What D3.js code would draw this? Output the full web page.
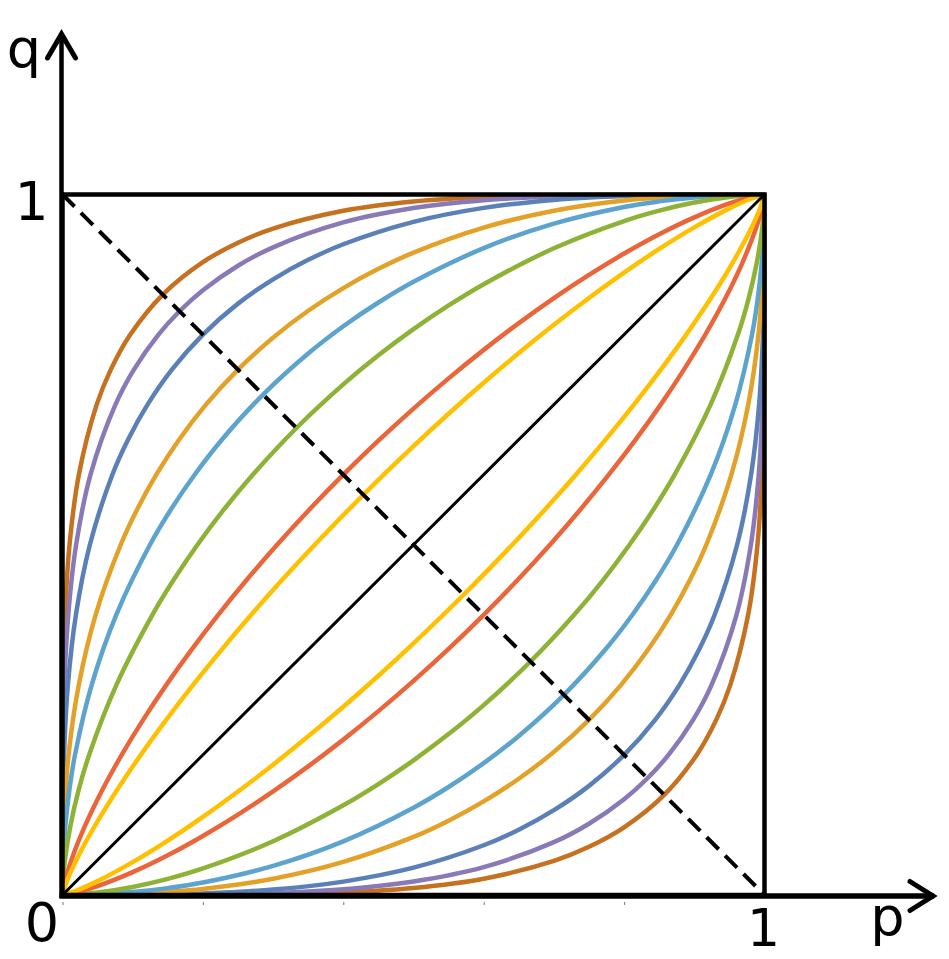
<!DOCTYPE html>
<html>
<head>
<meta charset="utf-8">
<script src="https://cdn.jsdelivr.net/npm/d3@7"></script>
<style>
  html, body { margin: 0; padding: 0; background: #ffffff; }
  svg { display: block; }
</style>
</head>
<body>
<svg id="chart" width="949" height="959"></svg>
<script>
// ---- data: upper family of curves, [p, q] points (outermost first) ----
const curve1 = [[0,0],[0,0.1],[0.0002,0.2],[0.001,0.3],[0.0036,0.4],[0.010,0.5],[0.0233,0.6],[0.0487,0.7],[0.0688,0.75],[0.0966,0.8],[0.1429,0.8571],[0.2,0.9034],[0.25,0.9312],[0.3,0.9513],[0.4,0.9767],[0.5,0.99],[0.6,0.9964],[0.7,0.999],[0.8,0.9998],[1,1]];
const curve2 = [[0,0],[0,0.1],[0.0006,0.2],[0.0027,0.3],[0.0082,0.4],[0.0194,0.5],[0.0399,0.6],[0.0754,0.7],[0.1017,0.75],[0.1367,0.8],[0.1667,0.8333],[0.2,0.8633],[0.25,0.8983],[0.3,0.9246],[0.4,0.9601],[0.5,0.9806],[0.6,0.9918],[0.7,0.9973],[0.8,0.9994],[1,1]];
const curve3 = [[0,0],[0.0003,0.1],[0.0022,0.2],[0.0077,0.3],[0.0191,0.4],[0.039,0.5],[0.071,0.6],[0.0933,0.65],[0.1211,0.7],[0.1558,0.75],[0.2,0.8],[0.25,0.8442],[0.3,0.8789],[0.35,0.9067],[0.4,0.929],[0.5,0.961],[0.6,0.9809],[0.7,0.9923],[0.8,0.9978],[0.9,0.9997],[1,1]];
const curve4 = [[0,0],[0.0003,0.05],[0.0016,0.1],[0.0086,0.2],[0.0232,0.3],[0.0472,0.4],[0.0829,0.5],[0.1061,0.55],[0.1336,0.6],[0.166,0.65],[0.2043,0.7],[0.25,0.75],[0.3,0.7957],[0.35,0.834],[0.4,0.8664],[0.45,0.8939],[0.5,0.9171],[0.6,0.9528],[0.7,0.9768],[0.8,0.9914],[0.9,0.9984],[0.95,0.9997],[1,1]];
const curve5 = [[0,0],[0.001,0.05],[0.0042,0.1],[0.0098,0.15],[0.0178,0.2],[0.0416,0.3],[0.0766,0.4],[0.1246,0.5],[0.1542,0.55],[0.1882,0.6],[0.227,0.65],[0.2857,0.7143],[0.35,0.773],[0.4,0.8119],[0.45,0.8458],[0.5,0.8754],[0.6,0.9234],[0.7,0.9584],[0.8,0.9822],[0.85,0.9902],[0.9,0.9958],[0.95,0.999],[1,1]];
const curve6 = [[0,0],[0.0007,0.02],[0.0035,0.05],[0.0115,0.1],[0.023,0.15],[0.0379,0.2],[0.0768,0.3],[0.1281,0.4],[0.1584,0.45],[0.1923,0.5],[0.2297,0.55],[0.2711,0.6],[0.3333,0.6667],[0.4,0.7289],[0.45,0.7704],[0.5,0.8077],[0.55,0.8416],[0.6,0.872],[0.7,0.9232],[0.8,0.9621],[0.85,0.977],[0.9,0.9885],[0.95,0.9965],[0.98,0.9993],[1,1]];
const curve7 = [[0,0],[0.0037,0.02],[0.0127,0.05],[0.0326,0.1],[0.0567,0.15],[0.0843,0.2],[0.1148,0.25],[0.1479,0.3],[0.1836,0.35],[0.2218,0.4],[0.2625,0.45],[0.3057,0.5],[0.3514,0.55],[0.4,0.6],[0.45,0.6486],[0.5,0.6944],[0.55,0.7375],[0.6,0.7782],[0.65,0.8164],[0.7,0.8521],[0.75,0.8852],[0.8,0.9157],[0.85,0.9433],[0.9,0.9674],[0.95,0.9873],[0.98,0.9963],[1,1]];
const curve8 = [[0,0],[0.0064,0.02],[0.0198,0.05],[0.0469,0.1],[0.0777,0.15],[0.1115,0.2],[0.1477,0.25],[0.186,0.3],[0.2265,0.35],[0.2688,0.4],[0.313,0.45],[0.3593,0.5],[0.4286,0.5714],[0.5,0.6407],[0.55,0.687],[0.6,0.7312],[0.65,0.7736],[0.7,0.814],[0.75,0.8523],[0.8,0.8885],[0.85,0.9223],[0.9,0.9531],[0.95,0.9802],[0.98,0.9936],[1,1]];
const diagonal = [[0,0],[1,1]];
const antiDiagonal = [[0,1],[1,0]];
const minorTicks = [0, 0.2, 0.4, 0.6, 0.8];
const xTitle = "p";
const yTitle = "q";
const zeroLabel = "0";
const oneLabel = "1";

// ---- styles ----
const curveColors = ["#C5711F", "#8979B6", "#5B80B8", "#E3A128", "#5CA3CE", "#8DB236", "#EA663A", "#FFC000"];

const upperCurves = [curve1, curve2, curve3, curve4, curve5, curve6, curve7, curve8];
// the lower family is the mirror image of the upper one across the diagonal (as in the picture)
const lowerCurves = upperCurves.map(c => c.map(([p, q]) => [q, p]));

const svg = d3.select("#chart");
const x = d3.scaleLinear().domain([0, 1]).range([62.5, 764.5]);
const y = d3.scaleLinear().domain([0, 1]).range([895, 194.5]);

const line = d3.line()
  .x(d => x(d[0]))
  .y(d => y(d[1]))
  .curve(d3.curveCatmullRom.alpha(0.5));

const gCurves = svg.append("g");
upperCurves.forEach((c, i) => {
  gCurves.append("path").datum(c).attr("d", line)
    .attr("fill", "none").attr("stroke", curveColors[i]).attr("stroke-width", 4.5);
});
lowerCurves.forEach((c, i) => {
  gCurves.append("path").datum(c).attr("d", line)
    .attr("fill", "none").attr("stroke", curveColors[i]).attr("stroke-width", 4.5);
});

const straight = d3.line().x(d => x(d[0])).y(d => y(d[1]));
svg.append("path").datum(diagonal).attr("d", straight)
  .attr("fill", "none").attr("stroke", "#000").attr("stroke-width", 3);
svg.append("path").datum(antiDiagonal).attr("d", straight)
  .attr("fill", "none").attr("stroke", "#000").attr("stroke-width", 4)
  .attr("stroke-dasharray", "17,9");

// unit square
svg.append("rect")
  .attr("x", x(0)).attr("y", y(1))
  .attr("width", x(1) - x(0)).attr("height", y(0) - y(1))
  .attr("fill", "none").attr("stroke", "#000").attr("stroke-width", 4.5);

// faint minor ticks under the p axis
const tickAxis = d3.axisBottom(x).tickValues(minorTicks).tickSize(3).tickFormat("");
const gt = svg.append("g").attr("transform", `translate(0,${y(0) + 7})`).call(tickAxis);
gt.select(".domain").remove();
gt.selectAll(".tick line").attr("stroke", "#777").attr("stroke-width", 1);

// axes with open arrowheads
const ax0 = x(0) - 1, ay0 = y(0) + 1;
svg.append("line").attr("x1", ax0).attr("y1", ay0 + 2).attr("x2", ax0).attr("y2", 33)
  .attr("stroke", "#000").attr("stroke-width", 4.5);
svg.append("polyline")
  .attr("points", `${ax0 - 14},58 ${ax0},34 ${ax0 + 14},58`)
  .attr("fill", "none").attr("stroke", "#000").attr("stroke-width", 5)
  .attr("stroke-linecap", "round").attr("stroke-linejoin", "miter");
svg.append("line").attr("x1", ax0 - 2).attr("y1", ay0).attr("x2", 934).attr("y2", ay0)
  .attr("stroke", "#000").attr("stroke-width", 5.5);
svg.append("polyline")
  .attr("points", `910,${ay0 - 14.5} 933,${ay0} 910,${ay0 + 14.5}`)
  .attr("fill", "none").attr("stroke", "#000").attr("stroke-width", 5)
  .attr("stroke-linecap", "round").attr("stroke-linejoin", "miter");

// labels
const font = "DejaVu Sans";
function label(txt, cx, by, size) {
  svg.append("text").attr("x", cx).attr("y", by)
    .attr("text-anchor", "middle")
    .attr("font-family", font).attr("font-size", size)
    .attr("fill", "#000").text(txt);
}
label(yTitle, 24, 67, 54);
label(oneLabel, x(0) - 31, y(1) + 25.5, 53);
label(zeroLabel, x(0) - 20.5, y(0) + 46, 54);
label(oneLabel, x(1) - 1, y(0) + 51, 52);
label(xTitle, 887.5, 935, 54);
</script>
</body>
</html>
